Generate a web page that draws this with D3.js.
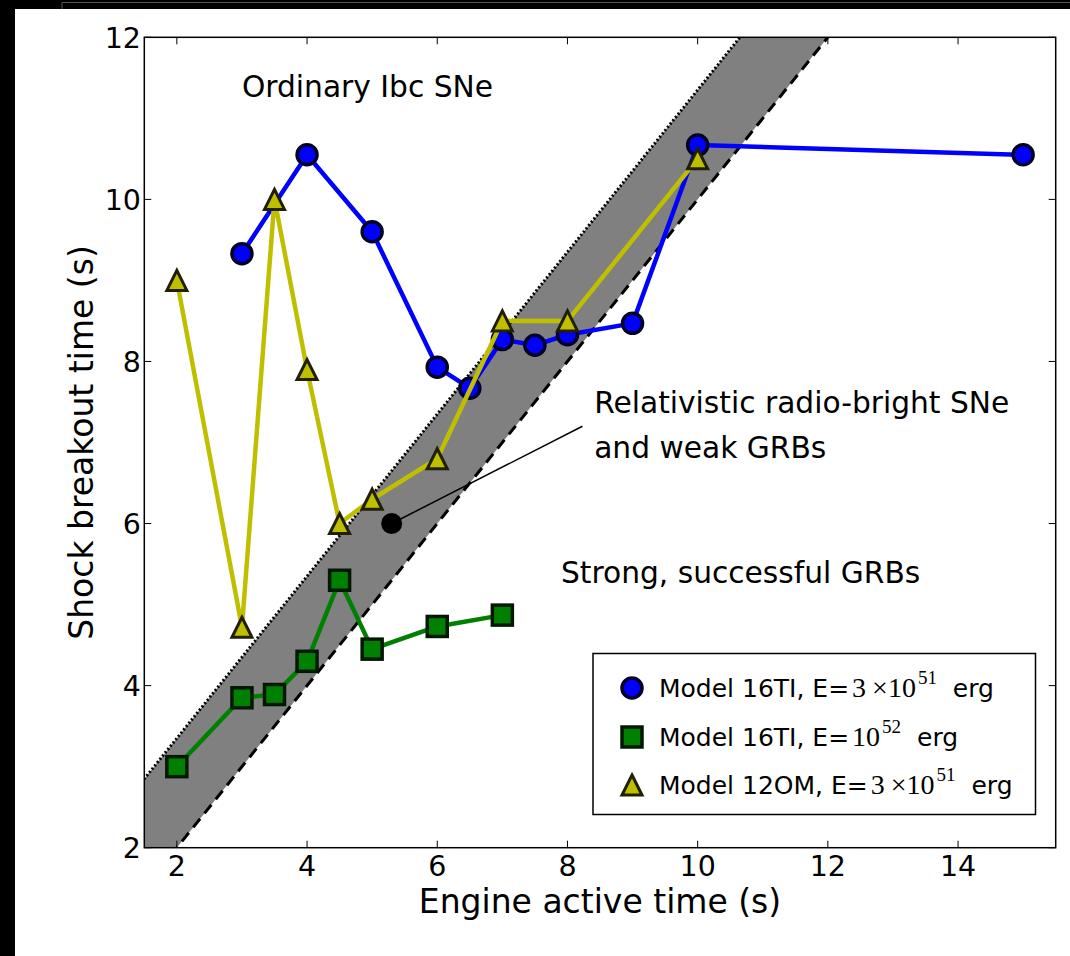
<!DOCTYPE html>
<html>
<head>
<meta charset="utf-8">
<script src="https://cdn.jsdelivr.net/npm/d3@7"></script>
<style>
  html, body { margin: 0; padding: 0; background: #000; }
  svg { display: block; }
  text { font-family: "DejaVu Sans", sans-serif; fill: #000; }
</style>
</head>
<body>
<svg id="chart" width="1070" height="956"></svg>
<script>
// ---- data ----
const blueX = [3, 4, 5, 6, 6.5, 7, 7.5, 8, 9, 10, 15];
const blueY = [9.33, 10.55, 9.6, 7.93, 7.67, 8.27, 8.2, 8.33, 8.47, 10.67, 10.55];
const greenX = [2, 3, 3.5, 4, 4.5, 5, 6, 7];
const greenY = [3.0, 3.85, 3.89, 4.3, 5.3, 4.45, 4.73, 4.87];
const yellowX = [2, 3, 3.5, 4, 4.5, 5, 6, 7, 8, 10];
const yellowY = [9.0, 4.72, 10.0, 7.9, 6.0, 6.3, 6.8, 8.5, 8.5, 10.5];
const bandLowerOffset = 0;      // lower edge: y = x
const bandUpperOffset = 1.35;   // upper edge: y = x + 1.35
const bandXs = [0, 20];
const pointX = [5.3];
const pointY = [6.0];
const xTicks = [2, 4, 6, 8, 10, 12, 14];
const yTicks = [2, 4, 6, 8, 10, 12];
const xDomain = [1.5, 15.5];
const yDomain = [2, 12];
const legendLabels = [
  {pre: "Model 16TI, E=", mant: "3", exp: "51", suf: " erg", marker: "circle"},
  {pre: "Model 16TI, E=", mant: "", exp: "52", suf: " erg", marker: "square"},
  {pre: "Model 12OM, E=", mant: "3", exp: "51", suf: " erg", marker: "triangle"}
];

// ---- layout ----
const svg = d3.select("#chart");
const L = 144.3, R = 1055.7, T = 37.3, B = 847.7;
const x = d3.scaleLinear().domain(xDomain).range([L, R]);
const y = d3.scaleLinear().domain(yDomain).range([B, T]);

// frame (black edges of the picture)
svg.append("rect").attr("x", 0).attr("y", 0).attr("width", 1070).attr("height", 956).attr("fill", "#000");
svg.append("rect").attr("x", 15).attr("y", 9).attr("width", 1055).attr("height", 947).attr("fill", "#fff");
svg.append("path").attr("d", "M62,9 V2.5 H1070").attr("fill", "none").attr("stroke", "#555").attr("stroke-width", 1);

svg.append("defs").append("clipPath").attr("id", "clip")
  .append("rect").attr("x", L).attr("y", T).attr("width", R - L).attr("height", B - T);

const plot = svg.append("g").attr("clip-path", "url(#clip)");

// band
const bandPts = bandXs.map(v => [x(v), y(v + bandUpperOffset)])
  .concat(bandXs.slice().reverse().map(v => [x(v), y(v + bandLowerOffset)]));
plot.append("path").attr("d", d3.line()(bandPts) + "Z").attr("fill", "#808080").attr("stroke", "none");
plot.append("path").attr("d", d3.line()(bandXs.map(v => [x(v), y(v + bandUpperOffset)])))
  .attr("fill", "none").attr("stroke", "#000").attr("stroke-width", 3).attr("stroke-dasharray", "2,2.2");
plot.append("path").attr("d", d3.line()(bandXs.map(v => [x(v), y(v + bandLowerOffset)])))
  .attr("fill", "none").attr("stroke", "#000").attr("stroke-width", 3).attr("stroke-dasharray", "11,7");

// annotation arrow line + point
const annX = 8.23, annY = 7.2;
plot.append("line").attr("x1", x(pointX[0])).attr("y1", y(pointY[0])).attr("x2", x(annX)).attr("y2", y(annY))
  .attr("stroke", "#000").attr("stroke-width", 1.5);
plot.selectAll("circle.pt").data(pointX).enter().append("circle").attr("class", "pt")
  .attr("cx", (d) => x(d)).attr("cy", (d, i) => y(pointY[i])).attr("r", 10.5).attr("fill", "#000");

const lineGen = d3.line().x(d => x(d[0])).y(d => y(d[1]));
function zip(a, b) { return a.map((v, i) => [v, b[i]]); }

function triPath(cx, cy, h) {
  return `M${cx},${cy - h}L${cx + h},${cy + h}L${cx - h},${cy + h}Z`;
}

function drawSeries(xs, ys, color, marker, edge) {
  const pts = zip(xs, ys);
  plot.append("path").attr("d", lineGen(pts)).attr("fill", "none").attr("stroke", color)
    .attr("stroke-width", 4.5).attr("stroke-linejoin", "round");
  const g = plot.append("g");
  pts.forEach(p => {
    const cx = x(p[0]), cy = y(p[1]);
    if (marker === "circle") {
      g.append("circle").attr("cx", cx).attr("cy", cy).attr("r", 10)
        .attr("fill", color).attr("stroke", edge).attr("stroke-width", 3.5);
    } else if (marker === "square") {
      g.append("rect").attr("x", cx - 10).attr("y", cy - 10).attr("width", 20).attr("height", 20)
        .attr("fill", color).attr("stroke", edge).attr("stroke-width", 3.5);
    } else {
      g.append("path").attr("d", triPath(cx, cy, 10))
        .attr("fill", color).attr("stroke", edge).attr("stroke-width", 3);
    }
  });
}
drawSeries(blueX, blueY, "#0000ff", "circle", "#000028");
drawSeries(greenX, greenY, "#008000", "square", "#001800");
drawSeries(yellowX, yellowY, "#bfbf00", "triangle", "#202000");

// axes box
svg.append("rect").attr("x", L).attr("y", T).attr("width", R - L).attr("height", B - T)
  .attr("fill", "none").attr("stroke", "#000").attr("stroke-width", 1.5);

// ticks (inside, all four sides)
const tickLen = 7;
const tg = svg.append("g").attr("stroke", "#000").attr("stroke-width", 1);
xTicks.forEach(v => {
  tg.append("line").attr("x1", x(v)).attr("x2", x(v)).attr("y1", B).attr("y2", B - tickLen);
  tg.append("line").attr("x1", x(v)).attr("x2", x(v)).attr("y1", T).attr("y2", T + tickLen);
});
yTicks.forEach(v => {
  tg.append("line").attr("x1", L).attr("x2", L + tickLen).attr("y1", y(v)).attr("y2", y(v));
  tg.append("line").attr("x1", R).attr("x2", R - tickLen).attr("y1", y(v)).attr("y2", y(v));
});

// tick labels
svg.append("g").selectAll("text").data(xTicks).enter().append("text")
  .attr("x", d => x(d)).attr("y", 876).attr("text-anchor", "middle")
  .style("font-size", "28.5px").text(d => d);
svg.append("g").selectAll("text").data(yTicks).enter().append("text")
  .attr("x", 141).attr("y", d => y(d) + 10.5).attr("text-anchor", "end")
  .style("font-size", "28.5px").text(d => d);

// axis labels
svg.append("text").attr("x", (L + R) / 2).attr("y", 913).attr("text-anchor", "middle")
  .style("font-size", "33px").text("Engine active time (s)");
svg.append("text").attr("transform", `translate(93,${(T + B) / 2}) rotate(-90)`).attr("text-anchor", "middle")
  .style("font-size", "33px").text("Shock breakout time (s)");

// region annotations
svg.append("text").attr("x", x(3.0)).attr("y", y(11.26)).style("font-size", "29.7px").text("Ordinary Ibc SNe");
svg.append("text").attr("x", x(8.41)).attr("y", y(7.37)).style("font-size", "29.7px").text("Relativistic radio-bright SNe");
svg.append("text").attr("x", x(8.41)).attr("y", y(6.805)).style("font-size", "29.7px").text("and weak GRBs");
svg.append("text").attr("x", x(7.9)).attr("y", y(5.27)).style("font-size", "29.7px").text("Strong, successful GRBs");

// legend
const lg = svg.append("g");
lg.append("rect").attr("x", 593).attr("y", 653.5).attr("width", 442.5).attr("height", 161)
  .attr("fill", "#fff").attr("stroke", "#000").attr("stroke-width", 1.5);
const rowY = [688, 737, 785];
const edges = {circle: "#000028", square: "#001800", triangle: "#202000"};
const fills = {circle: "#0000ff", square: "#008000", triangle: "#bfbf00"};
legendLabels.forEach((d, i) => {
  const cy = rowY[i], cx = 632;
  if (d.marker === "circle") {
    lg.append("circle").attr("cx", cx).attr("cy", cy).attr("r", 10).attr("fill", fills.circle).attr("stroke", edges.circle).attr("stroke-width", 3.5);
  } else if (d.marker === "square") {
    lg.append("rect").attr("x", cx - 10).attr("y", cy - 10).attr("width", 20).attr("height", 20).attr("fill", fills.square).attr("stroke", edges.square).attr("stroke-width", 3.5);
  } else {
    lg.append("path").attr("d", triPath(cx, cy, 10)).attr("fill", fills.triangle).attr("stroke", edges.triangle).attr("stroke-width", 3);
  }
  const t = lg.append("text").attr("x", 659).attr("y", cy + 9).style("font-size", "25px");
  t.append("tspan").text(d.pre);
  const serif = "'Liberation Serif', 'DejaVu Serif', serif";
  if (d.mant) {
    t.append("tspan").style("font-family", serif).style("font-size", "28px").attr("dx", 3).text(d.mant);
    t.append("tspan").style("font-family", serif).style("font-size", "28px").attr("dx", 6).text("×10");
  } else {
    t.append("tspan").style("font-family", serif).style("font-size", "28px").attr("dx", 3).text("10");
  }
  t.append("tspan").style("font-family", serif).style("font-size", "19px").attr("dy", -13).attr("dx", 2).text(d.exp);
  t.append("tspan").attr("dy", 13).attr("dx", 8).text(d.suf);
});
</script>
</body>
</html>
